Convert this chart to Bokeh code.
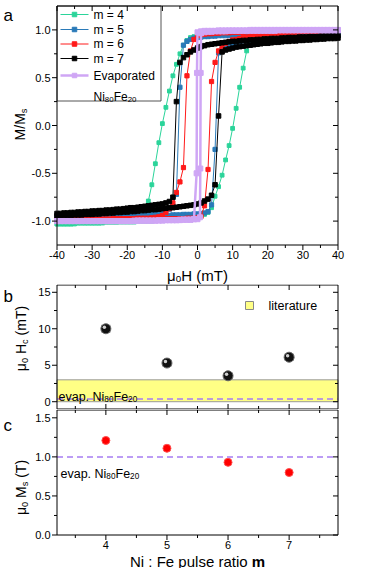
import math
from bokeh.plotting import figure
from bokeh.layouts import column
from bokeh.models import Label, Range1d
from bokeh.core.properties import value
from bokeh.embed import file_html
from bokeh.resources import INLINE

FONT = "Liberation Sans"

# ---------------- data: panel a (hysteresis loops, M/Ms vs mu0H in mT) ----------------
field_mT = [-40, -39, -38, -37, -36, -35, -34, -33, -32, -31,
            -30, -29, -28, -27, -26, -25, -24, -23, -22, -21,
            -20, -19, -18, -17, -16, -15, -14, -13, -12, -11,
            -10, -9, -8, -7, -6, -5, -4, -3, -2, -1,
            0, 1, 2, 3, 4, 5, 6, 7, 8, 9,
            10, 11, 12, 13, 14, 15, 16, 17, 18, 19,
            20, 21, 22, 23, 24, 25, 26, 27, 28, 29,
            30, 31, 32, 33, 34, 35, 36, 37, 38, 39,
            40]

m4_desc = [-1.03, -1.03, -1.03, -1.03, -1.03, -1.03, -1.02, -1.02, -1.02, -1.02,
           -1.02, -1.02, -1.02, -1.01, -1.01, -1.01, -1.01, -1.01, -1.00, -1.00,
           -1.00, -0.99, -0.98, -0.96, -0.92, -0.87, -0.79, -0.62, -0.40, -0.18,
           0.02, 0.19, 0.36, 0.52, 0.64, 0.75, 0.84, 0.89, 0.92, 0.93,
           0.94, 0.945, 0.95, 0.95, 0.955, 0.96, 0.96, 0.96, 0.965, 0.965,
           0.97, 0.97, 0.97, 0.97, 0.97, 0.975, 0.975, 0.975, 0.975, 0.98,
           0.98, 0.98, 0.98, 0.98, 0.985, 0.985, 0.985, 0.985, 0.985, 0.99,
           0.99, 0.99, 0.99, 0.99, 0.99, 0.995, 0.995, 0.995, 0.995, 1.0,
           1.0]
m4_asc = [-1.03, -1.03, -1.03, -1.03, -1.03, -1.02, -1.02, -1.02, -1.02, -1.02,
          -1.02, -1.02, -1.02, -1.02, -1.01, -1.01, -1.01, -1.01, -1.01, -1.01,
          -1.01, -1.01, -1.01, -1.00, -1.00, -1.00, -1.00, -1.00, -0.99, -0.99,
          -0.99, -0.99, -0.99, -0.98, -0.98, -0.98, -0.98, -0.97, -0.97, -0.96,
          -0.96, -0.95, -0.93, -0.91, -0.86, -0.74, -0.64, -0.52, -0.36, -0.21,
          -0.03, 0.18, 0.40, 0.60, 0.78, 0.87, 0.91, 0.93, 0.94, 0.95,
          0.955, 0.96, 0.96, 0.965, 0.965, 0.97, 0.97, 0.975, 0.975, 0.98,
          0.98, 0.98, 0.985, 0.985, 0.985, 0.99, 0.99, 0.99, 0.995, 0.995,
          1.0]

m5_desc = [-0.965, -0.965, -0.96, -0.96, -0.96, -0.96, -0.96, -0.955, -0.955, -0.955,
           -0.955, -0.95, -0.95, -0.95, -0.95, -0.945, -0.945, -0.945, -0.94, -0.94,
           -0.94, -0.935, -0.935, -0.93, -0.93, -0.925, -0.92, -0.915, -0.91, -0.905,
           -0.90, -0.89, -0.875, -0.84, -0.72, 0.40, 0.84, 0.88, 0.90, 0.915,
           0.92, 0.925, 0.93, 0.93, 0.935, 0.935, 0.94, 0.94, 0.94, 0.94,
           0.945, 0.945, 0.945, 0.945, 0.95, 0.95, 0.95, 0.95, 0.95, 0.95,
           0.95, 0.955, 0.955, 0.955, 0.955, 0.955, 0.955, 0.955, 0.96, 0.96,
           0.96, 0.96, 0.96, 0.96, 0.96, 0.96, 0.96, 0.965, 0.965, 0.965,
           0.965]
m5_asc = [-0.965, -0.965, -0.965, -0.96, -0.96, -0.96, -0.96, -0.96, -0.96, -0.96,
          -0.96, -0.96, -0.955, -0.955, -0.955, -0.955, -0.955, -0.95, -0.95, -0.95,
          -0.95, -0.95, -0.95, -0.95, -0.945, -0.945, -0.945, -0.945, -0.94, -0.94,
          -0.94, -0.94, -0.94, -0.935, -0.935, -0.935, -0.93, -0.93, -0.93, -0.925,
          -0.925, -0.92, -0.915, -0.90, -0.83, -0.25, 0.76, 0.80, 0.83, 0.85,
          0.86, 0.87, 0.88, 0.885, 0.89, 0.895, 0.90, 0.90, 0.905, 0.91,
          0.915, 0.92, 0.92, 0.925, 0.925, 0.93, 0.93, 0.935, 0.935, 0.94,
          0.94, 0.94, 0.945, 0.945, 0.95, 0.95, 0.95, 0.955, 0.955, 0.955,
          0.96]

m6_desc = [-0.985, -0.985, -0.985, -0.985, -0.985, -0.985, -0.98, -0.98, -0.98, -0.98,
           -0.98, -0.98, -0.98, -0.98, -0.98, -0.98, -0.975, -0.975, -0.975, -0.975,
           -0.975, -0.975, -0.975, -0.97, -0.97, -0.97, -0.97, -0.965, -0.96, -0.955,
           -0.94, -0.91, -0.87, -0.81, -0.70, -0.59, -0.44, 0.52, 0.78, 0.90,
           0.94, 0.95, 0.955, 0.96, 0.96, 0.965, 0.965, 0.97, 0.97, 0.97,
           0.975, 0.975, 0.975, 0.975, 0.98, 0.98, 0.98, 0.98, 0.98, 0.985,
           0.985, 0.985, 0.985, 0.985, 0.985, 0.99, 0.99, 0.99, 0.99, 0.99,
           0.99, 0.99, 0.99, 0.99, 0.995, 0.995, 0.995, 0.995, 0.995, 0.995,
           0.995]
m6_asc = [-0.985, -0.985, -0.985, -0.985, -0.985, -0.985, -0.985, -0.985, -0.985, -0.985,
          -0.985, -0.985, -0.985, -0.98, -0.98, -0.98, -0.98, -0.98, -0.98, -0.98,
          -0.98, -0.98, -0.98, -0.98, -0.98, -0.98, -0.98, -0.98, -0.975, -0.975,
          -0.975, -0.975, -0.975, -0.975, -0.975, -0.975, -0.975, -0.97, -0.97, -0.97,
          -0.965, -0.95, -0.84, -0.46, 0.46, 0.66, 0.78, 0.83, 0.86, 0.88,
          0.895, 0.90, 0.91, 0.92, 0.925, 0.93, 0.935, 0.94, 0.945, 0.95,
          0.955, 0.96, 0.96, 0.965, 0.965, 0.97, 0.97, 0.975, 0.975, 0.975,
          0.98, 0.98, 0.98, 0.985, 0.985, 0.985, 0.99, 0.99, 0.99, 0.99,
          0.995]

m7_desc = [-0.92, -0.92, -0.915, -0.915, -0.91, -0.91, -0.905, -0.905, -0.90, -0.90,
           -0.895, -0.895, -0.89, -0.89, -0.885, -0.885, -0.88, -0.875, -0.875, -0.87,
           -0.865, -0.86, -0.86, -0.855, -0.85, -0.845, -0.84, -0.835, -0.83, -0.825,
           -0.82, -0.81, -0.795, -0.75, 0.25, 0.66, 0.71, 0.74, 0.77, 0.79,
           0.81, 0.825, 0.835, 0.845, 0.85, 0.855, 0.86, 0.865, 0.87, 0.875,
           0.88, 0.88, 0.885, 0.89, 0.89, 0.895, 0.895, 0.90, 0.90, 0.905,
           0.905, 0.91, 0.91, 0.91, 0.915, 0.915, 0.92, 0.92, 0.92, 0.925,
           0.925, 0.925, 0.93, 0.93, 0.93, 0.935, 0.935, 0.935, 0.94, 0.94,
           0.94]
m7_asc = [-0.945, -0.945, -0.94, -0.94, -0.94, -0.935, -0.935, -0.935, -0.93, -0.93,
          -0.93, -0.925, -0.925, -0.92, -0.92, -0.915, -0.915, -0.91, -0.91, -0.905,
          -0.905, -0.90, -0.90, -0.895, -0.89, -0.89, -0.885, -0.88, -0.88, -0.875,
          -0.87, -0.865, -0.86, -0.86, -0.855, -0.85, -0.845, -0.84, -0.835, -0.83,
          -0.82, -0.81, -0.79, -0.77, -0.73, -0.62, 0.10, 0.77, 0.79, 0.80,
          0.81, 0.82, 0.825, 0.83, 0.835, 0.84, 0.845, 0.85, 0.855, 0.86,
          0.86, 0.865, 0.87, 0.87, 0.875, 0.88, 0.88, 0.885, 0.885, 0.89,
          0.89, 0.895, 0.895, 0.90, 0.90, 0.905, 0.905, 0.91, 0.91, 0.91,
          0.915]

evap_desc = [-1.0, -1.0, -1.0, -1.0, -1.0, -1.0, -1.0, -1.0, -1.0, -1.0,
             -1.0, -1.0, -1.0, -1.0, -1.0, -1.0, -1.0, -1.0, -1.0, -1.0,
             -1.0, -1.0, -1.0, -0.995, -0.995, -0.995, -0.995, -0.995, -0.995, -0.995,
             -0.995, -0.99, -0.99, -0.99, -0.99, -0.99, -0.985, -0.985, -0.985, -0.98,
             0.975, 0.985, 0.99, 0.99, 0.99, 0.99, 0.995, 0.995, 0.995, 0.995,
             0.995, 0.995, 0.995, 0.995, 0.995, 1.0, 1.0, 1.0, 1.0, 1.0,
             1.0, 1.0, 1.0, 1.0, 1.0, 1.0, 1.0, 1.0, 1.0, 1.0,
             1.0, 1.0, 1.0, 1.0, 1.0, 1.0, 1.0, 1.0, 1.0, 1.0,
             1.0]
evap_asc = [-1.0, -1.0, -1.0, -1.0, -1.0, -1.0, -1.0, -1.0, -1.0, -1.0,
            -1.0, -1.0, -1.0, -1.0, -1.0, -1.0, -1.0, -1.0, -1.0, -1.0,
            -1.0, -1.0, -0.995, -0.995, -0.995, -0.995, -0.995, -0.995, -0.995, -0.99,
            -0.99, -0.99, -0.99, -0.99, -0.99, -0.985, -0.985, -0.985, -0.985, -0.98,
            -0.98, 0.965, 0.975, 0.98, 0.98, 0.985, 0.985, 0.985, 0.985, 0.99,
            0.99, 0.99, 0.99, 0.99, 0.99, 0.99, 0.99, 0.99, 0.99, 0.99,
            0.99, 0.99, 0.99, 0.995, 0.995, 0.995, 0.995, 0.995, 0.995, 0.995,
            0.995, 0.995, 0.995, 0.995, 0.995, 0.995, 0.995, 0.995, 0.995, 0.995,
            0.995]
# extra points measured inside the very sharp switching of the evaporated film
evap_desc_switch_H = [-0.15, -0.25]
evap_desc_switch_M = [0.55, -0.50]
evap_asc_switch_H = [0.7, 0.8, 0.9]
evap_asc_switch_M = [-0.96, -0.45, 0.55]

loop_labels = ["m = 4", "m = 5", "m = 6", "m = 7", "Evaporated"]

# ---------------- data: panels b and c ----------------
ratio_m = [4, 5, 6, 7]
hc_mT = [10.0, 5.3, 3.55, 6.1]
hc_err = [0.45, 0.4, 0.4, 0.4]
ms_T = [1.21, 1.11, 0.93, 0.80]
ms_err = [0.02, 0.02, 0.02, 0.03]
evap_hc_mT = 0.37
evap_ms_T = 1.0
lit_hc_band = [0.0, 3.0]

a_x_ticks = [-40, -30, -20, -10, 0, 10, 20, 30, 40]
a_x_minor = [-35, -25, -15, -5, 5, 15, 25, 35]
a_y_ticks = [-1.0, -0.5, 0.0, 0.5, 1.0]
a_y_minor = [-0.75, -0.25, 0.25, 0.75]
m_ticks = [4, 5, 6, 7]
m_minor = [3.5, 4.5, 5.5, 6.5, 7.5]
b_y_ticks = [0, 5, 10, 15]
b_y_minor = [2.5, 7.5, 12.5]
c_y_ticks = [0.0, 0.5, 1.0, 1.5]
c_y_minor = [0.25, 0.75, 1.25]

A_XR, A_YR = (-40, 40), (-1.25, 1.25)
M_XR = (3.2, 7.8)
B_YR, C_YR = (-1, 16), (0, 1.6)

# ---------------- styling / layout ----------------
GREEN = "#2bd49a"
BLUE = "#2a7ab8"
RED = "#ff1a1a"
BLACK = "#000000"
PURPLE = "#cfa6f5"
DASH_PURPLE = "#a77cf2"
YELLOW = "#ffff85"
W = 374
LFT, RGT = 56.5, 337.5

WID = {'μ': 576, 'H': 722, ' ': 278, '(': 333, ')': 333, 'm': 833, 'T': 611, 'M': 833,
       '/': 278, 's': 500, 'c': 500, 'e': 556, 'v': 500, 'a': 556, 'p': 556, '.': 278,
       'N': 722, 'i': 222, 'F': 611, 'E': 667, 'o': 556, 'r': 333, 't': 278, 'd': 556,
       'l': 222, 'u': 556, ':': 278, '=': 584}


def tw(s, size, bold=False):
    return sum(WID.get(ch, 556) for ch in s) * size / 1000.0 * (1.06 if bold else 1.0)


class Geo:
    """Maps pixel positions of one canvas to the data coordinates of its figure."""
    def __init__(self, H, T, B, xd, yd):
        self.H, self.T, self.B, self.xd, self.yd = H, T, B, xd, yd
        self.sx = (xd[1] - xd[0]) / (RGT - LFT)
        self.sy = (yd[1] - yd[0]) / (B - T)
        self.x0 = xd[0] - LFT * self.sx
        self.x1 = xd[1] + (W - RGT) * self.sx
        self.y1 = yd[1] + T * self.sy
        self.y0 = yd[0] - (H - B) * self.sy

    def X(self, px):
        return self.x0 + px * self.sx

    def Y(self, py):
        return self.y1 - py * self.sy


def make_fig(g):
    p = figure(width=W, height=g.H, x_range=Range1d(g.x0, g.x1), y_range=Range1d(g.y0, g.y1),
               output_backend="svg", toolbar_location=None, x_axis_type=None,
               y_axis_type=None, min_border=0)
    p.outline_line_color = None
    p.background_fill_color = "white"
    p.border_fill_color = "white"
    return p


def label(p, g, px, py, text, size, align="left", baseline="middle", angle=0.0, style="normal"):
    p.add_layout(Label(x=g.X(px), y=g.Y(py), x_units="data", y_units="data", text=text,
                       text_font=FONT, text_font_size=f"{size:.1f}px", text_font_style=style,
                       text_align=align, text_baseline=baseline, angle=angle,
                       text_color="black"))


def _split(t, fs, bold):
    lead = len(t) - len(t.lstrip(" "))
    vis = t.strip(" ")
    return tw(" " * lead, fs), vis, tw(vis, fs, bold)


def rich_h(p, g, px, py, parts, size, align="left"):
    sub = size * 0.66
    widths = [tw(t, sub if st == "s" else size, st == "b") for t, st in parts]
    acc = -sum(widths) / 2 if align == "center" else 0.0
    for (t, st), w in zip(parts, widths):
        fs = sub if st == "s" else size
        drop = size * 0.2 if st == "s" else 0.0
        lw, vis, _ = _split(t, fs, st == "b")
        label(p, g, px + acc + lw, py + drop, vis, fs, "left", "alphabetic",
              style="bold" if st == "b" else "normal")
        acc += w


def rich_v(p, g, cx, cy, parts, size):
    """Text rotated 90 deg (reading upwards), centred at pixel (cx, cy)."""
    sub = size * 0.66
    widths = [tw(t, sub if st == "s" else size) for t, st in parts]
    acc = 0.0
    start = cy + sum(widths) / 2
    for (t, st), w in zip(parts, widths):
        fs = sub if st == "s" else size
        shift = (size * 0.2 + 0.3 * (size - sub)) if st == "s" else 0.0
        lw, vis, vw = _split(t, fs, False)
        label(p, g, cx + shift, start - acc - lw - vw / 2, vis, fs, "center", "middle",
              angle=math.pi / 2)
        acc += w


def axes(p, g, major_x, minor_x, major_y, minor_y, xout, yout, xlabels, ylabels, xfmt, yfmt):
    xs0, ys0, xs1, ys1 = [], [], [], []
    for vals, ln in ((major_x, 5), (minor_x, 3)):
        for t in vals:
            d = -ln * g.sy if xout else ln * g.sy
            xs0.append(t); ys0.append(g.yd[0]); xs1.append(t); ys1.append(g.yd[0] + d)
            xs0.append(t); ys0.append(g.yd[1]); xs1.append(t); ys1.append(g.yd[1] - ln * g.sy)
    for vals, ln in ((major_y, 5), (minor_y, 3)):
        for t in vals:
            d = -ln * g.sx if yout else ln * g.sx
            xs0.append(g.xd[0]); ys0.append(t); xs1.append(g.xd[0] + d); ys1.append(t)
            xs0.append(g.xd[1]); ys0.append(t); xs1.append(g.xd[1] - ln * g.sx); ys1.append(t)
    p.segment(xs0, ys0, xs1, ys1, line_color="black", line_width=1)
    p.quad(left=[g.xd[0]], right=[g.xd[1]], bottom=[g.yd[0]], top=[g.yd[1]],
           fill_color=None, line_color="black", line_width=1)
    if xlabels:
        p.text(x=major_x, y=[g.Y(g.B + 9.5)] * len(major_x), text=[xfmt % t for t in major_x],
               text_font=value(FONT), text_font_size=value("11px"), text_color="black",
               text_align="center", text_baseline="middle")
    if ylabels:
        p.text(x=[g.X(LFT - 6.5)] * len(major_y), y=major_y, text=[yfmt % t for t in major_y],
               text_font=value(FONT), text_font_size=value("11px"), text_color="black",
               text_align="right", text_baseline="middle")


# ---------------- panel a ----------------
ga = Geo(284, 5.5, 244.5, A_XR, A_YR)
pa = make_fig(ga)

loops = [(m4_desc, m4_asc, GREEN, 3.8), (m5_desc, m5_asc, BLUE, 4.2),
         (m6_desc, m6_asc, RED, 4.2), (m7_desc, m7_asc, BLACK, 4.5)]
for desc, asc, col, sz in loops:
    for br in (desc, asc):
        pa.line(field_mT, br, line_color=col, line_width=1)
        pa.scatter(field_mT, br, marker="square", size=sz, fill_color=col, line_color=col)

evap_branches = [sorted(zip(field_mT + evap_desc_switch_H, evap_desc + evap_desc_switch_M)),
                 sorted(zip(field_mT + evap_asc_switch_H, evap_asc + evap_asc_switch_M))]
for br in evap_branches:
    hx = [h for h, _ in br]
    my = [m for _, m in br]
    pa.line(hx, my, line_color=PURPLE, line_width=2.5)
    pa.scatter(hx, my, marker="square", size=5, fill_color=PURPLE, line_color=PURPLE)

# legend box (manual, to allow the subscripted second line)
pa.quad(left=[ga.X(56.5)], right=[ga.X(160.5)], top=[ga.Y(5.5)], bottom=[ga.Y(100.5)],
        fill_color="white", line_color="#555555", line_width=1)
leg_rows = [14, 29, 43.5, 58, 75]
leg_cols = [GREEN, BLUE, RED, BLACK, PURPLE]
for rw, col, lab in zip(leg_rows, leg_cols, loop_labels):
    lw = 2.5 if col == PURPLE else 1
    pa.line([ga.X(60), ga.X(88)], [ga.Y(rw), ga.Y(rw)], line_color=col, line_width=lw)
    pa.scatter([ga.X(74)], [ga.Y(rw)], marker="square", size=4.5, fill_color=col, line_color=col)
    label(pa, ga, 93, rw, lab, 12)
rich_h(pa, ga, 93, 96.5, [("Ni", "n"), ("80", "s"), ("Fe", "n"), ("20", "s")], 12)

axes(pa, ga, a_x_ticks, a_x_minor, a_y_ticks, a_y_minor, True, True, True, True, "%d", "%.1f")
label(pa, ga, 3, 15, "a", 17)
rich_v(pa, ga, 19, 124, [("M/M", "n"), ("s", "s")], 14)
rich_h(pa, ga, (LFT + RGT) / 2, 275, [("μ", "n"), ("0", "s"), ("H (mT)", "n")], 15,
       align="center")

# ---------------- panel b ----------------
gb = Geo(125, 0.5, 124.5, M_XR, B_YR)
pb = make_fig(gb)
pb.quad(left=[M_XR[0]], right=[M_XR[1]], bottom=[lit_hc_band[0]], top=[lit_hc_band[1]],
        fill_color=YELLOW, line_color="#999999", line_width=1)
pb.segment(x0=[M_XR[0]], y0=[evap_hc_mT], x1=[M_XR[1]], y1=[evap_hc_mT],
           line_color=DASH_PURPLE, line_dash="6 4", line_width=1.5)

lo = [v - e for v, e in zip(hc_mT, hc_err)]
hi = [v + e for v, e in zip(hc_mT, hc_err)]
pb.segment(ratio_m, lo, ratio_m, hi, line_color="#8a8a8a", line_width=1.5)
pb.scatter(ratio_m, lo, marker="dash", size=9, line_color="#8a8a8a", line_width=1.5)
pb.scatter(ratio_m, hi, marker="dash", size=9, line_color="#8a8a8a", line_width=1.5)
pb.scatter(ratio_m, hc_mT, marker="circle", size=10, fill_color="#111111", line_color="#666666")
pb.scatter([m - 1.5 * gb.sx for m in ratio_m], [h + 1.5 * gb.sy for h in hc_mT],
           marker="circle", size=3.5, fill_color="white", fill_alpha=0.8, line_color=None)

pb.scatter([gb.X(249)], [gb.Y(21)], marker="square", size=8, fill_color=YELLOW,
           line_color="#888888", line_width=1)
label(pb, gb, 268, 21, "literature", 12.5)
rich_h(pb, gb, 58, 112, [("evap. Ni", "n"), ("80", "s"), ("Fe", "n"), ("20", "s")], 12.5)

axes(pb, gb, m_ticks, m_minor, b_y_ticks, b_y_minor, False, True, False, True, "%d", "%d")
label(pb, gb, 3, 12, "b", 17)
rich_v(pb, gb, 20, 54, [("μ", "n"), ("0", "s"), (" H", "n"), ("c", "s"), (" (mT)", "n")], 14)

# ---------------- panel c ----------------
gc = Geo(159, 0.5, 125.5, M_XR, C_YR)
pc = make_fig(gc)
pc.segment(x0=[M_XR[0]], y0=[evap_ms_T], x1=[M_XR[1]], y1=[evap_ms_T],
           line_color=DASH_PURPLE, line_dash="6 4", line_width=1.5)
lo_c = [v - e for v, e in zip(ms_T, ms_err)]
hi_c = [v + e for v, e in zip(ms_T, ms_err)]
pc.segment(ratio_m, lo_c, ratio_m, hi_c, line_color="#ff9a9a", line_width=6)
pc.scatter(ratio_m, ms_T, marker="circle", size=8, fill_color="#ff0000", line_color="#ff5050")
rich_h(pc, gc, 60, 64, [("evap. Ni", "n"), ("80", "s"), ("Fe", "n"), ("20", "s")], 12.5)

axes(pc, gc, m_ticks, m_minor, c_y_ticks, c_y_minor, True, True, True, True, "%d", "%.1f")
label(pc, gc, 3, 16, "c", 17)
rich_v(pc, gc, 20, 78, [("μ", "n"), ("0", "s"), (" M", "n"), ("s", "s"), (" (T)", "n")], 14)
rich_h(pc, gc, (LFT + RGT) / 2, 151.5, [("Ni : Fe pulse ratio ", "n"), ("m", "b")], 15,
       align="center")

layout = column(pa, pb, pc, spacing=0)
open("out.html", "w").write(file_html(layout, INLINE))
